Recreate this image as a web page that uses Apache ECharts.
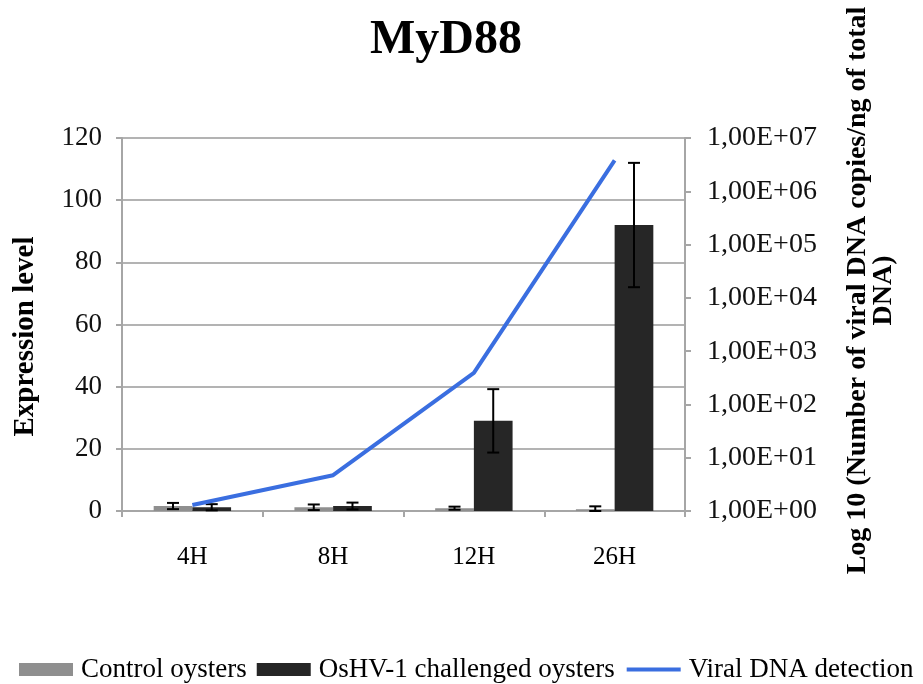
<!DOCTYPE html>
<html>
<head>
<meta charset="utf-8">
<script src="https://cdn.jsdelivr.net/npm/echarts@6/dist/echarts.min.js"></script>
<style>
  html, body { margin: 0; padding: 0; background: #fff; }
  #main { width: 923px; height: 684px; }
</style>
</head>
<body>
<div id="main"></div>
<script>
// data
const categories = ['4H', '8H', '12H', '26H'];
const controlValues = [1.6, 1.2, 0.9, 0.6];
const controlErrors = [1.0, 0.9, 0.5, 0.9];
const challengedValues = [1.2, 1.6, 29, 92];
const challengedErrors = [1.0, 1.1, 10.2, 20];
const viralCopies = [1.3, 4.7, 390, 3.8e6];
const leftTicks = [0, 20, 40, 60, 80, 100, 120];

const FONT = 'Liberation Serif';
const BAR_GAP = 0.45;

const chart = echarts.init(document.getElementById('main'));

// error bars drawn on top of the two bar series
function errorBars(values, errors, side) {
  return {
    type: 'custom',
    xAxisIndex: 0,
    yAxisIndex: 0,
    z: 5,
    silent: true,
    data: values.map((v, i) => [i, v - errors[i], v + errors[i]]),
    renderItem: (params, api) => {
      const band = api.size([1, 0])[0];
      const barW = band * (1 - BAR_GAP) / 2;
      const lo = api.coord([api.value(0), Math.max(0, api.value(1))]);
      const hi = api.coord([api.value(0), api.value(2)]);
      const x = lo[0] + side * barW / 2;
      const cap = 6;
      const style = { stroke: '#000', lineWidth: 2 };
      return {
        type: 'group',
        children: [
          { type: 'line', shape: { x1: x, y1: lo[1], x2: x, y2: hi[1] }, style },
          { type: 'line', shape: { x1: x - cap, y1: hi[1], x2: x + cap, y2: hi[1] }, style },
          { type: 'line', shape: { x1: x - cap, y1: lo[1], x2: x + cap, y2: lo[1] }, style }
        ]
      };
    }
  };
}

const option = {
  backgroundColor: '#fff',
  animation: false,
  title: {
    text: 'MyD88',
    left: 365,
    top: 12,
    textStyle: { fontFamily: FONT, fontSize: 48, fontWeight: 'bold', color: '#000' }
  },
  legend: {
    top: 651,
    left: 14,
    width: 909,
    itemWidth: 54,
    itemHeight: 13,
    itemGap: 10,
    textStyle: { fontFamily: FONT, fontSize: 27, color: '#000', padding: [0, 0, 0, 3] },
    data: [
      { name: 'Control oysters', icon: 'rect' },
      { name: 'OsHV-1 challenged oysters', icon: 'rect' },
      { name: 'Viral DNA detection', itemStyle: { opacity: 0 }, lineStyle: { width: 4 } }
    ]
  },
  grid: { left: 122, right: 238, top: 138, bottom: 173 },
  xAxis: {
    type: 'category',
    data: categories,
    axisLine: { lineStyle: { color: '#a6a6a6', width: 2 } },
    axisTick: { show: true, length: 6, lineStyle: { color: '#a6a6a6', width: 2 } },
    axisLabel: { margin: 34, fontFamily: FONT, fontSize: 25, color: '#000' }
  },
  yAxis: [
    {
      type: 'value',
      min: leftTicks[0],
      max: leftTicks[leftTicks.length - 1],
      interval: 20,
      name: 'Expression level',
      nameLocation: 'middle',
      nameGap: 82,
      nameTextStyle: {
        fontFamily: FONT, fontSize: 29, fontWeight: 'bold', color: '#000',
        padding: [0, 24, 0, 0]
      },
      axisLine: { show: true, lineStyle: { color: '#a6a6a6', width: 2 } },
      axisTick: { show: true, length: 6, lineStyle: { color: '#a6a6a6', width: 2 } },
      axisLabel: { margin: 20, fontFamily: FONT, fontSize: 27, color: '#111' },
      splitLine: { show: true, lineStyle: { color: '#b3b3b3', width: 2 } }
    },
    {
      type: 'log',
      logBase: 10,
      min: 1,
      max: 1e7,
      interval: 1,
      position: 'right',
      name: 'Log 10 (Number of viral DNA copies/ng of total\nDNA)',
      nameLocation: 'middle',
      nameGap: 160,
      nameTextStyle: {
        fontFamily: FONT, fontSize: 28, fontWeight: 'bold', color: '#000',
        lineHeight: 26, padding: [0, 0, 0, 68]
      },
      axisLine: { show: true, lineStyle: { color: '#a6a6a6', width: 2 } },
      axisTick: { show: true, length: 6, lineStyle: { color: '#a6a6a6', width: 2 } },
      axisLabel: {
        margin: 22, fontFamily: FONT, fontSize: 28, color: '#111',
        formatter: (v) => {
          const e = Math.round(Math.log10(v));
          return '1,00E+' + (e < 10 ? '0' + e : e);
        }
      },
      splitLine: { show: false }
    }
  ],
  series: [
    {
      name: 'Control oysters',
      type: 'bar',
      data: controlValues,
      barGap: '0%',
      barCategoryGap: BAR_GAP * 100 + '%',
      itemStyle: { color: '#8f8f8f' }
    },
    {
      name: 'OsHV-1 challenged oysters',
      type: 'bar',
      data: challengedValues,
      barGap: '0%',
      barCategoryGap: BAR_GAP * 100 + '%',
      itemStyle: { color: '#262626' }
    },
    errorBars(controlValues, controlErrors, -1),
    errorBars(challengedValues, challengedErrors, 1),
    {
      name: 'Viral DNA detection',
      type: 'line',
      yAxisIndex: 1,
      data: viralCopies,
      symbol: 'none',
      z: 6,
      lineStyle: { color: '#3a6ee0', width: 4 },
      itemStyle: { color: '#3a6ee0' }
    }
  ]
};

chart.setOption(option);
</script>
</body>
</html>
